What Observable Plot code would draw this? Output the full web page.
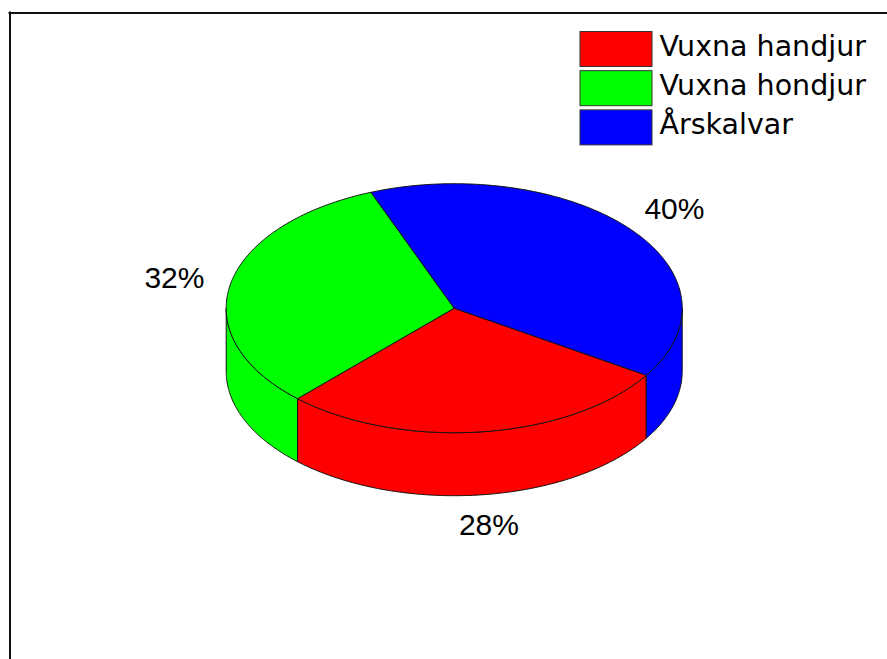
<!DOCTYPE html>
<html><head><meta charset="utf-8">
<script src="https://cdn.jsdelivr.net/npm/d3@7"></script>
<script src="https://cdn.jsdelivr.net/npm/@observablehq/plot@0.6"></script>
<style>html,body{margin:0;padding:0;background:#fff;} svg{display:block}</style>
</head><body><div id="chart"></div>
<script>
const categories = ["Vuxna handjur", "Vuxna hondjur", "Årskalvar"];
const shares = [28, 32, 40];
const labels = ["28%", "32%", "40%"];
const colors = ["#ff0000", "#00ff00", "#0000ff"];

// layout constants (pixels)
const W = 887, H = 659;
const CX = 453.7, CY = 307.7, RX = 228, RY = 124.5, DEPTH = 63;
const START = 122.6; // clock degrees where first slice starts, going clockwise
const h = DEPTH / RY;
const px = v => (v - CX) / RX;
const py = v => (CY - v) / RY;

const total = d3.sum(shares);
let acc = START;
const slices = categories.map((c, i) => {
  const t0 = acc, t1 = acc + shares[i] / total * 360; acc = t1;
  return {c, i, t0, t1};
});
const rad = d => d * Math.PI / 180;
const pt = (t, dz = 0) => ({x: Math.sin(rad(t)), y: Math.cos(rad(t)) - dz});
function arc(t0, t1, dz = 0) {
  const n = Math.max(2, Math.ceil((t1 - t0) / 0.5));
  return d3.range(n + 1).map(k => pt(t0 + (t1 - t0) * k / n, dz));
}

const sides = [];
slices.forEach(s => {
  for (const off of [-360, 0, 360]) {
    const lo = Math.max(s.t0, 90 + off), hi = Math.min(s.t1, 270 + off);
    if (hi > lo) {
      const top = arc(lo, hi), bot = arc(lo, hi, h).reverse();
      const poly = [...top, ...bot, top[0]];
      const key = `side-${s.i}-${off}`;
      poly.forEach(p => sides.push({...p, key, cat: s.c}));
    }
  }
});
const tops = [];
slices.forEach(s => {
  const poly = [{x: 0, y: 0}, ...arc(s.t0, s.t1), {x: 0, y: 0}];
  poly.forEach(p => tops.push({...p, key: `top-${s.i}`, cat: s.c}));
});
const labelData = slices.map(s => {
  const p = pt((s.t0 + s.t1) / 2), k = 1.25;
  return {x: k * p.x, y: k * p.y - (p.y < 0 ? h : 0), text: labels[s.i]};
});
const legendRows = categories.map((c, i) => ({cat: c, i}));
const STEP = 39.2;

const chart = Plot.plot({
  width: W, height: H,
  marginTop: 0, marginRight: 0, marginBottom: 0, marginLeft: 0,
  x: {domain: [-1, 1], range: [CX - RX, CX + RX], axis: null},
  y: {domain: [-1, 1], range: [CY + RY, CY - RY], axis: null},
  color: {domain: categories, range: colors},
  style: {background: "white", overflow: "visible"},
  marks: [
    Plot.ruleX([px(9.5)], {y1: py(11.5), y2: py(H), stroke: "#111", strokeWidth: 2}),
    Plot.ruleY([py(12.5)], {x1: px(8.5), x2: px(W), stroke: "#111", strokeWidth: 2}),
    Plot.line(sides, {x: "x", y: "y", z: "key", fill: "cat", stroke: "#111", strokeWidth: 1, curve: "linear"}),
    Plot.line(tops, {x: "x", y: "y", z: "key", fill: "cat", stroke: "#111", strokeWidth: 1, curve: "linear"}),
    Plot.text(labelData, {x: "x", y: "y", text: "text", fontSize: 30, fontFamily: "Liberation Sans, Arial, sans-serif", fill: "black", textAnchor: "middle"}),
    Plot.rect(legendRows, {x1: () => px(580), x2: () => px(652), y1: d => py(31.5 + d.i * STEP), y2: d => py(66.5 + d.i * STEP), fill: "cat", stroke: "#333", strokeWidth: 1}),
    Plot.text(legendRows, {x: () => px(659), y: d => py(55 + d.i * STEP), text: "cat", textAnchor: "start", lineAnchor: "bottom", fontSize: 28.5, fontFamily: "DejaVu Sans, sans-serif", fill: "black"})
  ]
});
document.getElementById("chart").appendChild(chart);
</script>
</body></html>
